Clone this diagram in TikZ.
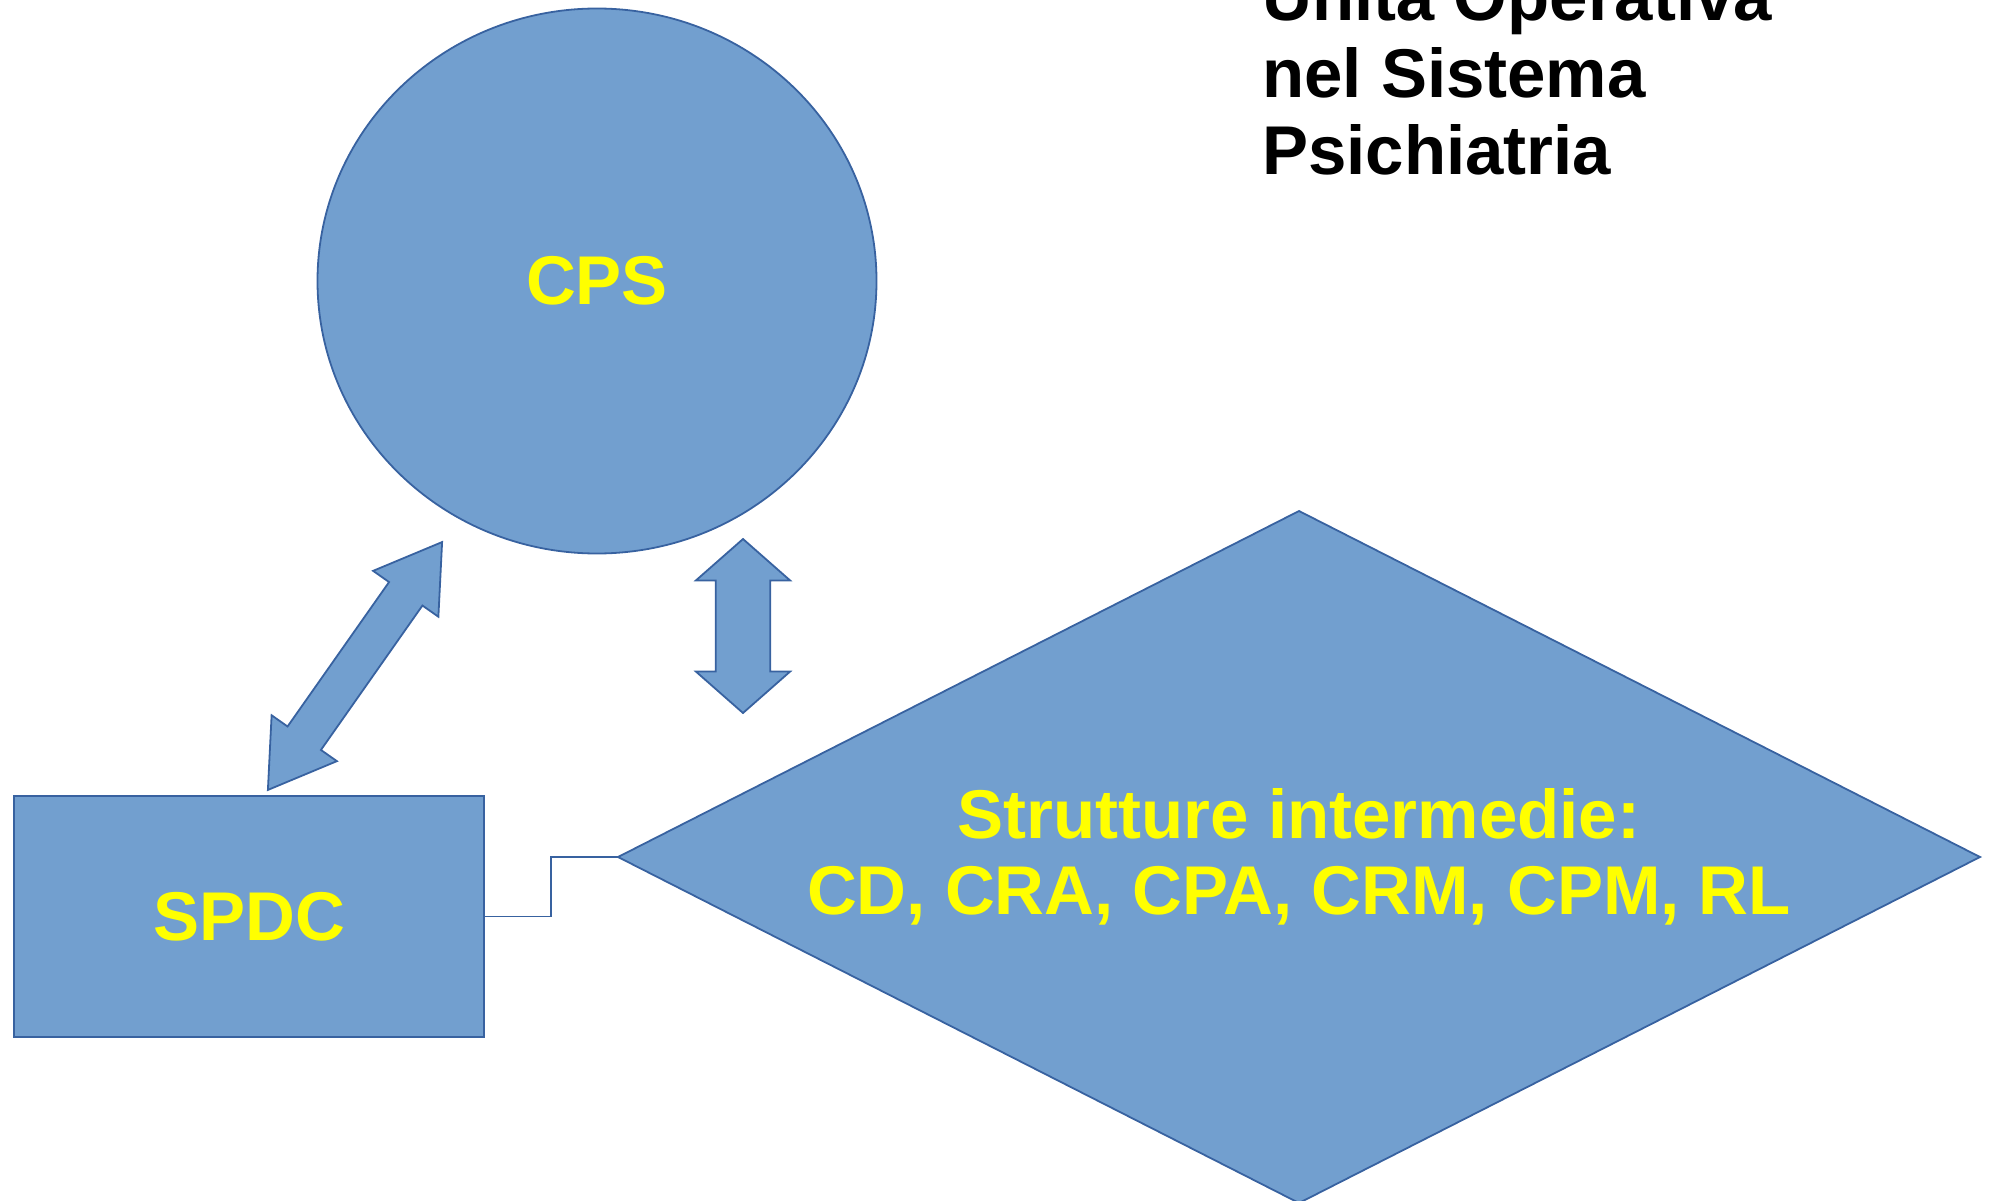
\documentclass[tikz,border=0pt]{standalone}
\usepackage{fontspec}
\setmainfont{Liberation Sans}
\usetikzlibrary{shapes.geometric,shapes.arrows}
\definecolor{boxfill}{RGB}{114,159,207}
\definecolor{boxline}{RGB}{56,98,160}
\definecolor{labelyellow}{RGB}{255,255,0}
\begin{document}
\begin{tikzpicture}[x=1pt,y=-1pt,
    block/.style={draw=boxline,fill=boxfill,line width=1.8pt,inner sep=0pt,outer sep=0pt,
      text=labelyellow,align=center,font=\fontsize{69}{76}\selectfont\bfseries},
    duplex/.style={double arrow,draw=boxline,fill=boxfill,line width=1.8pt,
      outer sep=0pt,minimum width=0pt},
    link/.style={draw=boxline,line width=1.8pt}]
  \useasboundingbox (0,0) rectangle (1991,1201);
  \clip (0,0) rectangle (1991,1201);
  \node[block,ellipse,minimum width=559pt,minimum height=545pt] (cps) at (597,281) {CPS};
  \node[block,rectangle,minimum width=470pt,minimum height=241pt] (spdc) at (249,916.5) {SPDC};
  \node[block,diamond,aspect=1.97,minimum width=1362pt,minimum height=692pt] (strutture) at (1299,857)
    {Strutture intermedie:\\CD, CRA, CPA, CRM, CPM, RL};
  \node[duplex,inner sep=26.3pt,double arrow head extend=19.9pt,double arrow tip angle=97.3,
    minimum height=174pt,rotate=90] (cpsstr) at (743,626) {};
  \node[duplex,inner sep=19.5pt,double arrow head extend=19.5pt,double arrow tip angle=64.5,
    minimum height=303pt,rotate=54.9] (cpsspdc) at (355,666) {};
  \node[anchor=base west,align=left,inner sep=0pt,font=\fontsize{69}{77}\selectfont\bfseries] (titolo) at (1262,175)
    {Unità Operativa\\nel Sistema\\Psichiatria};
  \draw[link] (spdc.east) -- ++(67,0) |- (strutture.west);
\end{tikzpicture}
\end{document}
